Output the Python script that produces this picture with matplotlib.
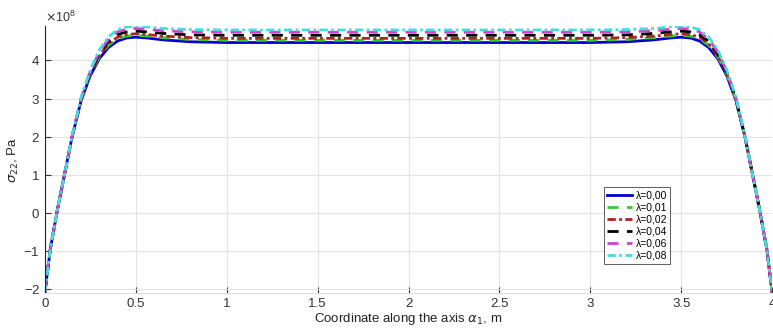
import numpy as np
import matplotlib
matplotlib.use("Agg")
import matplotlib.pyplot as plt
from matplotlib.ticker import ScalarFormatter

plt.rcParams['font.family'] = ['Liberation Sans', 'DejaVu Sans']
plt.rcParams['mathtext.fontset'] = 'dejavusans'

# coordinate along the axis, m
x = [0, 0.03, 0.07, 0.11, 0.15, 0.2, 0.25, 0.3, 0.35, 0.4, 0.45, 0.5, 0.56, 0.65, 0.8, 1.0,
     2.0, 3.0, 3.2, 3.35, 3.44, 3.5, 3.55, 3.6, 3.65, 3.7, 3.75, 3.8, 3.85, 3.89, 3.93, 3.97, 4.0]

# stress sigma_22, units of 1e8 Pa
s_000 = [-2.10, -0.95, 0.10, 1.05, 2.00, 2.95, 3.60, 4.05, 4.34, 4.51, 4.59, 4.61, 4.59, 4.54, 4.49, 4.47,
         4.47, 4.47, 4.49, 4.54, 4.59, 4.61, 4.59, 4.51, 4.34, 4.05, 3.60, 2.95, 2.00, 1.05, 0.10, -0.95, -2.10]
s_001 = [-2.10, -0.95, 0.10, 1.05, 2.00, 2.97, 3.64, 4.10, 4.40, 4.57, 4.64, 4.66, 4.64, 4.60, 4.55, 4.53,
         4.53, 4.53, 4.55, 4.60, 4.64, 4.66, 4.64, 4.57, 4.40, 4.10, 3.64, 2.97, 2.00, 1.05, 0.10, -0.95, -2.10]
s_002 = [-2.10, -0.95, 0.10, 1.05, 2.00, 2.98, 3.66, 4.13, 4.44, 4.61, 4.68, 4.70, 4.68, 4.64, 4.60, 4.58,
         4.58, 4.58, 4.60, 4.64, 4.68, 4.70, 4.68, 4.61, 4.44, 4.13, 3.66, 2.98, 2.00, 1.05, 0.10, -0.95, -2.10]
s_004 = [-2.10, -0.95, 0.10, 1.05, 2.00, 3.00, 3.69, 4.18, 4.50, 4.68, 4.75, 4.77, 4.75, 4.71, 4.67, 4.66,
         4.66, 4.66, 4.67, 4.71, 4.75, 4.77, 4.75, 4.68, 4.50, 4.18, 3.69, 3.00, 2.00, 1.05, 0.10, -0.95, -2.10]
s_006 = [-2.10, -0.95, 0.10, 1.05, 2.01, 3.02, 3.72, 4.23, 4.56, 4.75, 4.82, 4.84, 4.82, 4.78, 4.75, 4.74,
         4.74, 4.74, 4.75, 4.78, 4.82, 4.84, 4.82, 4.75, 4.56, 4.23, 3.72, 3.02, 2.01, 1.05, 0.10, -0.95, -2.10]
s_008 = [-2.10, -0.95, 0.10, 1.05, 2.02, 3.04, 3.75, 4.28, 4.62, 4.81, 4.88, 4.90, 4.88, 4.84, 4.81, 4.80,
         4.80, 4.80, 4.81, 4.84, 4.88, 4.90, 4.88, 4.81, 4.62, 4.28, 3.75, 3.04, 2.02, 1.05, 0.10, -0.95, -2.10]

labels = ['λ=0,00', 'λ=0,01', 'λ=0,02', 'λ=0,04', 'λ=0,06', 'λ=0,08']
series = [s_000, s_001, s_002, s_004, s_006, s_008]
colors = ['#0000cc', '#33cc33', '#b22222', 'black', '#cc44cc', '#44dddd']
styles = ['-', (0, (4, 3)), (0, (3, 1.2, 1, 1.2)), (0, (4, 3)), (0, (4, 3)), (0, (3, 1.2, 1, 1.2))]

fig = plt.figure(figsize=(7.73, 3.31), dpi=100)
ax = fig.add_axes([0.058, 0.115, 0.941, 0.806])

for s, lab, c, ls in zip(series, labels, colors, styles):
    ax.plot(x, np.array(s) * 1e8, color=c, linestyle=ls, linewidth=2, label=lab)

ax.set_xlim(0, 4)
ax.set_ylim(-2.1e8, 4.9e8)
ax.set_xticks(np.arange(0, 4.01, 0.5))
ax.set_xticklabels(['0', '0.5', '1', '1.5', '2', '2.5', '3', '3.5', '4'])
ax.set_yticks(np.arange(-2, 5) * 1e8)

fmt = ScalarFormatter(useMathText=True)
fmt.set_powerlimits((0, 0))
ax.yaxis.set_major_formatter(fmt)
ax.yaxis.get_offset_text().set_fontsize(9)
ax.yaxis.get_offset_text().set_color('#333333')

ax.grid(True, color='#e3e3e3', linewidth=0.8)
ax.tick_params(direction='in', labelsize=9.5, colors='#333333', length=4)
ax.spines['top'].set_visible(False)
ax.spines['right'].set_visible(False)
ax.spines['bottom'].set_color('#dddddd')
ax.spines['left'].set_color('#222222')

ax.set_xlabel(r'Coordinate along the axis $\alpha_1$, m', fontsize=9.5, color='#222222', labelpad=1)
ax.set_ylabel(r'$\sigma_{22}$, Pa', fontsize=9.5, color='#222222', labelpad=2)

leg = ax.legend(loc='upper left', bbox_to_anchor=(0.762, 0.415), fontsize=7.5,
                handlelength=2.4, handletextpad=0.3, labelspacing=0.2,
                borderpad=0.3, fancybox=False, framealpha=1, edgecolor='#444444')
leg.get_frame().set_linewidth(0.6)

fig.savefig('out.png', dpi=100)
